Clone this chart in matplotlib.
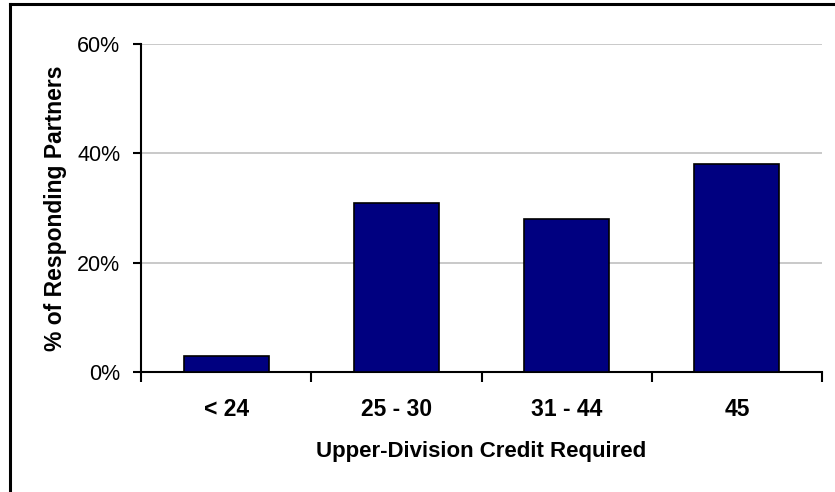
#!/usr/bin/env python3
"""Share of responding partners by upper-division credit requirement."""

import matplotlib
matplotlib.use('Agg')
import matplotlib.pyplot as plt
from matplotlib.lines import Line2D
from matplotlib.ticker import FixedLocator, FuncFormatter

plt.rcParams['font.family'] = ['Liberation Sans', 'DejaVu Sans']

categories = ['< 24', '25 - 30', '31 - 44', '45']
pct_partners = [3, 31, 28, 38]
y_ticks = [0, 20, 40, 60]

W, H = 835, 492
fig = plt.figure(figsize=(W / 100, H / 100), dpi=100)
ax = fig.add_axes([141 / W, 1 - 372 / H, (822 - 141) / W, (372 - 44) / H])

x = range(len(categories))
ax.bar(x, pct_partners, width=0.5, color='#000080', edgecolor='black',
       linewidth=1.2, zorder=3)

ax.set_xlim(-0.5, len(categories) - 0.5)
ax.set_ylim(0, 60)
ax.set_yticks(y_ticks)
ax.yaxis.set_major_formatter(FuncFormatter(lambda v, _: f'{v:.0f}%'))
ax.yaxis.grid(True, color='#c0c0c0', linewidth=1.2, zorder=0)

# category labels centred, tick marks between categories
ax.set_xticks(list(x))
ax.set_xticklabels(categories, fontsize=16.5, fontweight='bold')
ax.tick_params(axis='x', which='major', length=0, pad=19)
ax.xaxis.set_minor_locator(FixedLocator([i - 0.5 for i in range(len(categories) + 1)]))
ax.tick_params(axis='x', which='minor', length=7, width=1.5, direction='out')
ax.tick_params(axis='y', length=6, width=1.5, direction='out', labelsize=15.5, pad=9)

for side in ('top', 'right'):
    ax.spines[side].set_visible(False)
for side in ('left', 'bottom'):
    ax.spines[side].set_linewidth(1.5)

ax.set_xlabel('Upper-Division Credit Required', fontsize=16, fontweight='bold', labelpad=14)
ax.set_ylabel('% of Responding Partners', fontsize=16.5, fontweight='bold', labelpad=7)

# frame edges along the top and left of the figure
fig.add_artist(Line2D([9.5 / W, 1], [1 - 3.5 / H, 1 - 3.5 / H], color='black', linewidth=2.2))
fig.add_artist(Line2D([9.5 / W, 9.5 / W], [0, 1 - 3.5 / H], color='black', linewidth=2.2))

fig.savefig('out.png', dpi=100)
